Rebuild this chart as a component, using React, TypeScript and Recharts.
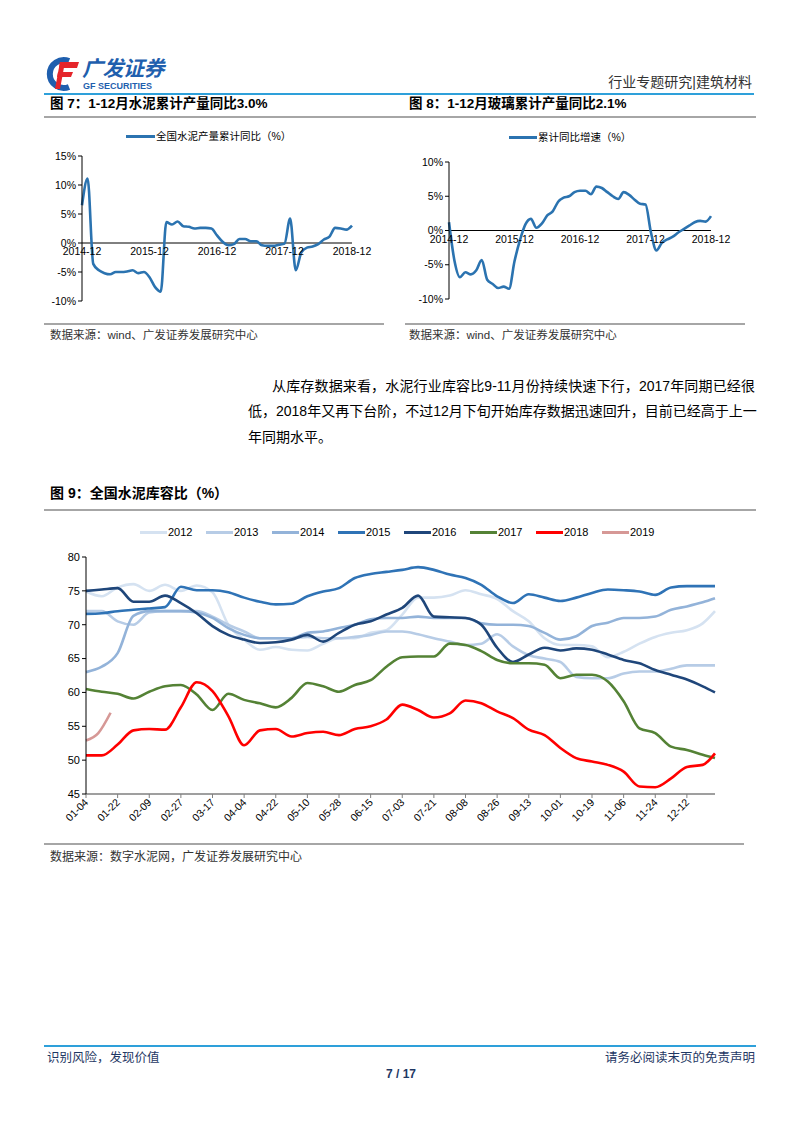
import React from "react";
import { Line, LineChart, ReferenceDot, ReferenceLine, XAxis, YAxis } from "recharts";

// fonts: Arial-metric latin first, CJK falls back to Noto Sans CJK
const CN = '"Liberation Sans", "Noto Sans CJK SC", sans-serif';
const NUM = '"Liberation Sans", Arial, sans-serif';

// ---- 图7 / 图8: monthly, 2014-12 .. 2018-12 ----
const YEAR_LABELS = ["2014-12", "2015-12", "2016-12", "2017-12", "2018-12"];
const CEMENT_YOY = [
  6.5, 11.1, -3.6, -4.7, -5.2, -5.4, -5.0, -5.0, -4.9, -4.7,
  -5.2, -5.0, -5.9, -7.6, -8.4, 3.6, 3.2, 3.7, 2.9, 2.8,
  2.5, 2.6, 2.6, 2.5, 1.3, 0.2, -0.4, -0.2, 0.7, 0.7,
  0.3, 0.3, -0.4, -0.5, -0.5, -0.3, -0.1, 4.2, -4.7, -1.6,
  -0.8, -0.6, -0.2, 0.6, 1.1, 2.6, 2.5, 2.3, 3.0,
];
const GLASS_YOY = [
  1.2, -4.4, -6.8, -6.1, -6.4, -5.8, -4.3, -7.2, -7.8, -8.4,
  -8.2, -8.5, -4.5, -1.4, 0.9, 1.7, 0.4, 1.0, 2.2, 2.8,
  4.2, 4.8, 5.0, 5.6, 5.8, 5.8, 5.3, 6.4, 6.2, 5.6,
  5.0, 4.6, 5.6, 5.2, 4.5, 3.9, 3.8, -0.3, -2.9, -1.8,
  -1.3, -0.9, -0.3, 0.2, 0.7, 1.2, 1.4, 1.3, 2.1,
];
const CEMENT_TICKS = [-10, -5, 0, 5, 10, 15];
const GLASS_TICKS = [-10, -5, 0, 5, 10];

// ---- 图9: 库容比 by day of year ----
const DAYS = [
  4, 13, 22, 31, 40, 49, 58, 67, 76, 85, 94, 103, 112, 121, 130, 139, 148, 157, 166, 175,
  184, 193, 202, 211, 220, 229, 238, 247, 256, 265, 274, 283, 292, 301, 310, 319, 328, 337, 346, 355, 362,
];
const S2012 = [
  74.9, 74.2, 75.5, 76.0, 75.0, 75.9, 75.0, 75.8, 74.8, 70.0,
  67.8, 66.3, 66.7, 66.3, 66.2, 67.2, 68.0, 68.0, 68.8, 69.2,
  71.5, 74.0, 74.0, 74.3, 75.1, 74.5, 73.8, 72.0, 70.5, 68.0,
  67.0, 67.0, 66.8, 65.2, 66.0, 67.2, 68.2, 68.8, 69.2, 70.2, 72.0,
];
const S2013 = [
  72.0, 72.0, 70.5, 70.0, 71.8, 72.0, 72.0, 72.0, 71.2, 70.0,
  69.0, 68.0, 68.0, 68.0, 68.2, 68.0, 68.0, 68.2, 68.5, 69.0,
  69.0, 68.6, 68.0, 67.5, 67.0, 67.2, 68.6, 66.8, 65.5, 65.0,
  64.5, 62.3, 62.1, 62.1, 62.8, 63.1, 63.1, 63.5, 64.0, 64.0, 64.0,
];
const S2014 = [
  63.0, 63.8, 65.8, 71.3, 72.0, 72.0, 72.0, 71.8, 71.0, 69.5,
  68.5, 68.0, 68.0, 68.0, 68.8, 69.0, 69.5, 70.0, 70.8, 71.0,
  71.0, 71.2, 71.0, 71.0, 71.0, 70.2, 70.0, 70.0, 69.8, 68.8,
  67.8, 68.3, 69.8, 70.3, 71.0, 71.0, 71.2, 72.2, 72.7, 73.3, 73.9,
];
const S2015 = [
  71.6, 71.7, 72.0, 72.2, 72.4, 72.6, 75.6, 75.1, 75.1, 74.8,
  74.0, 73.4, 73.0, 73.1, 74.2, 74.9, 75.4, 76.9, 77.5, 77.8,
  78.1, 78.5, 78.1, 77.4, 76.9, 75.9, 74.2, 73.2, 74.5, 74.0,
  73.5, 74.0, 74.7, 75.2, 75.1, 74.9, 74.4, 75.5, 75.7, 75.7, 75.7,
];
const S2016 = [
  75.0, 75.2, 75.4, 73.4, 73.4, 74.3, 73.2, 71.7, 69.8, 68.5,
  67.8, 67.3, 67.4, 67.8, 68.5, 67.5, 68.8, 70.0, 70.5, 71.5,
  72.5, 74.3, 71.2, 71.1, 71.0, 70.0, 66.6, 64.5, 65.6, 66.6,
  66.2, 66.5, 66.3, 65.6, 64.8, 64.3, 63.3, 62.6, 61.9, 60.9, 60.0,
];
const S2017 = [
  60.5, 60.1, 59.8, 59.1, 60.1, 60.9, 61.1, 59.7, 57.4, 59.8,
  58.9, 58.4, 57.8, 59.2, 61.4, 60.9, 60.1, 61.1, 61.8, 63.8,
  65.2, 65.3, 65.3, 67.2, 67.0, 66.1, 64.8, 64.3, 64.3, 64.1,
  62.1, 62.6, 62.6, 61.6, 58.7, 54.7, 54.0, 52.0, 51.5, 50.8, 50.3,
];
const S2018 = [
  50.7, 50.7, 52.3, 54.4, 54.6, 54.5, 57.8, 61.5, 60.2, 56.5,
  52.2, 54.4, 54.6, 53.5, 54.0, 54.2, 53.7, 54.6, 55.0, 56.0,
  58.2, 57.4, 56.3, 56.9, 58.8, 58.4, 57.2, 56.2, 54.5, 53.7,
  51.8, 50.3, 49.8, 49.3, 48.3, 46.1, 46.0, 47.3, 49.0, 49.3, 51.0,
];
const DAYS_2019 = [4, 11, 18];
const S2019 = [52.9, 54.0, 57.0];

const TICK_LABELS = [
  "01-04", "01-22", "02-09", "02-27", "03-17", "04-04", "04-22", "05-10", "05-28", "06-15",
  "07-03", "07-21", "08-08", "08-26", "09-13", "10-01", "10-19", "11-06", "11-24", "12-12",
];
const Y_TICKS = [45, 50, 55, 60, 65, 70, 75, 80];

const SERIES = [
  { key: "y2012", name: "2012", values: S2012, color: "#d5e2f1" },
  { key: "y2013", name: "2013", values: S2013, color: "#b7cce6" },
  { key: "y2014", name: "2014", values: S2014, color: "#93b3d9" },
  { key: "y2015", name: "2015", values: S2015, color: "#2f73b6" },
  { key: "y2016", name: "2016", values: S2016, color: "#1f467a" },
  { key: "y2017", name: "2017", values: S2017, color: "#548235" },
  { key: "y2018", name: "2018", values: S2018, color: "#ff0000" },
];
const COLOR_2019 = "#d69896";

const MONTH_START = [0, 31, 59, 90, 120, 151, 181, 212, 243, 273, 304, 334];
const dayOfYear = (l: string) => {
  const [m, d] = l.split("-").map(Number);
  return MONTH_START[m - 1] + d;
};
const TICK_DAYS = TICK_LABELS.map(dayOfYear);
const LABEL_BY_DAY: Record<number, string> = {};
TICK_LABELS.forEach((l) => (LABEL_BY_DAY[dayOfYear(l)] = l));

const rows9 = DAYS.map((d, i) => {
  const r: Record<string, number> = { day: d };
  SERIES.forEach((s) => (r[s.key] = s.values[i]));
  return r;
});
const rows2019 = DAYS_2019.map((d, i) => ({ day: d, y2019: S2019[i] }));

const abs = (left: number, top: number, extra: React.CSSProperties = {}): React.CSSProperties => ({
  position: "absolute",
  left,
  top,
  whiteSpace: "nowrap",
  lineHeight: 1,
  ...extra,
});

function Rule({ left, top, width, color = "#a6a6a6", h = 1.5 }: { left: number; top: number; width: number; color?: string; h?: number }) {
  return <div style={{ position: "absolute", left, top, width, height: h, background: color }} />;
}

function Logo() {
  return (
    <>
      <svg style={{ position: "absolute", left: 45, top: 56 }} width={36} height={36} viewBox="0 0 36 36">
        <path d="M24 5 A14 14 0 1 0 24 31" stroke="#1f5fae" strokeWidth={6} fill="none" />
        <path d="M15 6 L34 6 L32 12 L14 12 Z" fill="#e5252b" />
        <path d="M13 16 L28 16 L26 21 L12 21 Z" fill="#e5252b" />
        <path d="M15 6 L20 6 L15 33 L10 33 Z" fill="#e5252b" />
      </svg>
      <div style={abs(82, 58, { fontSize: 21, fontWeight: 700, color: "#1f5fae", fontStyle: "italic", letterSpacing: -0.5 })}>
        广发证券
      </div>
      <div style={abs(83, 82, { fontSize: 9, fontWeight: 700, color: "#1f5fae", fontFamily: NUM })}>GF SECURITIES</div>
    </>
  );
}

function SmallChart({
  data,
  ticks,
  domain,
  left,
  top,
  width,
  height,
  margin,
  yWidth,
}: {
  data: number[];
  ticks: number[];
  domain: [number, number];
  left: number;
  top: number;
  width: number;
  height: number;
  margin: { top: number; right: number; bottom: number; left: number };
  yWidth: number;
}) {
  const rows = data.map((v, i) => ({ i, v }));
  return (
    <div style={{ position: "absolute", left, top }}>
      <LineChart width={width} height={height} data={rows} margin={margin}>
        <XAxis type="number" dataKey="i" domain={[0, data.length - 1]} hide />
        <YAxis
          domain={domain}
          ticks={ticks}
          width={yWidth}
          tickSize={4}
          axisLine={{ stroke: "#000" }}
          tickLine={{ stroke: "#000" }}
          tick={{ fontSize: 10.5, fill: "#000", fontFamily: NUM }}
          tickFormatter={(v) => `${v}%`}
        />
        <ReferenceLine y={0} stroke="#000" strokeWidth={1} />
        {YEAR_LABELS.map((l, k) => (
          <ReferenceDot
            key={l}
            x={k * 12}
            y={0}
            r={0}
            fill="none"
            stroke="none"
            label={{ value: l, position: "bottom", offset: 5, fill: "#000", fontSize: 10.5, fontFamily: NUM }}
          />
        ))}
        <Line type="monotone" dataKey="v" stroke="#2b73b0" strokeWidth={2.6} dot={false} isAnimationActive={false} />
      </LineChart>
    </div>
  );
}

function RotTick(props: any) {
  const { x, y, payload } = props;
  return (
    <g transform={`translate(${x + 3},${y + 3})`}>
      <text textAnchor="end" transform="rotate(-45)" fontSize={10.5} fill="#000" fontFamily={NUM}>
        {LABEL_BY_DAY[payload.value]}
      </text>
    </g>
  );
}

function Legend9() {
  const all = [...SERIES.map((s) => ({ name: s.name, color: s.color })), { name: "2019", color: COLOR_2019 }];
  return (
    <div style={{ position: "absolute", left: 140, top: 525, display: "flex" }}>
      {all.map((s) => (
        <div key={s.name} style={{ width: 66, display: "flex", alignItems: "center", height: 14 }}>
          <div style={{ width: 27, height: 3, background: s.color }} />
          <span style={{ fontSize: 11, fontFamily: NUM, color: "#000", marginLeft: 1 }}>{s.name}</span>
        </div>
      ))}
    </div>
  );
}

export default function App() {
  return (
    <div style={{ position: "absolute", left: 0, top: 0, width: 802, height: 1133, background: "#fff", fontFamily: CN, color: "#000" }}>
      {/* header */}
      <Logo />
      <div style={abs(0, 75, { width: 752, textAlign: "right", fontSize: 14, color: "#333" })}>行业专题研究|建筑材料</div>
      <Rule left={44} top={93} width={710} color="#2ea0da" h={2} />

      {/* 图7 / 图8 */}
      <div style={abs(50, 97, { fontSize: 13.5, fontWeight: 700 })}>图 7：1-12月水泥累计产量同比3.0%</div>
      <div style={abs(409, 97, { fontSize: 13.5, fontWeight: 700 })}>图 8：1-12月玻璃累计产量同比2.1%</div>
      <Rule left={44} top={116} width={712} />

      <div style={{ position: "absolute", left: 126, top: 135, width: 29, height: 3, background: "#2b73b0" }} />
      <div style={abs(156, 131, { fontSize: 10.5 })}>全国水泥产量累计同比（%）</div>
      <div style={{ position: "absolute", left: 509, top: 136, width: 28, height: 3, background: "#2b73b0" }} />
      <div style={abs(538, 132, { fontSize: 10.5 })}>累计同比增速（%）</div>

      <SmallChart
        data={CEMENT_YOY}
        ticks={CEMENT_TICKS}
        domain={[-10, 15]}
        left={40}
        top={145}
        width={342}
        height={166}
        margin={{ top: 11, right: 30, bottom: 10, left: 4 }}
        yWidth={38}
      />
      <SmallChart
        data={GLASS_YOY}
        ticks={GLASS_TICKS}
        domain={[-10, 10]}
        left={400}
        top={150}
        width={350}
        height={159}
        margin={{ top: 12, right: 39, bottom: 10, left: 9 }}
        yWidth={40}
      />

      <Rule left={44} top={323} width={340} />
      <Rule left={405} top={323} width={340} />
      <div style={abs(50, 330, { fontSize: 11.5, color: "#333" })}>数据来源：wind、广发证券发展研究中心</div>
      <div style={abs(409, 330, { fontSize: 11.5, color: "#333" })}>数据来源：wind、广发证券发展研究中心</div>

      {/* paragraph */}
      <div style={abs(272, 379, { width: 483, fontSize: 14, textAlign: "justify", textAlignLast: "justify" })}>
        从库存数据来看，水泥行业库容比9-11月份持续快速下行，2017年同期已经很
      </div>
      <div style={abs(248, 404, { width: 507, fontSize: 14, textAlign: "justify", textAlignLast: "justify" })}>
        低，2018年又再下台阶，不过12月下旬开始库存数据迅速回升，目前已经高于上一
      </div>
      <div style={abs(248, 430, { fontSize: 14 })}>年同期水平。</div>

      {/* 图9 */}
      <div style={abs(50, 486, { fontSize: 14, fontWeight: 700 })}>图 9：全国水泥库容比（%）</div>
      <Rule left={44} top={509} width={712} />
      <Legend9 />

      <div style={{ position: "absolute", left: 40, top: 545 }}>
        <LineChart width={720} height={300} data={rows9} margin={{ top: 12, right: 45, bottom: 4, left: 10 }}>
          <XAxis
            type="number"
            dataKey="day"
            domain={[4, 362]}
            ticks={TICK_DAYS}
            interval={0}
            height={47}
            tickSize={4}
            axisLine={{ stroke: "#7f7f7f", strokeWidth: 1.5 }}
            tickLine={{ stroke: "#7f7f7f" }}
            tick={<RotTick />}
          />
          <YAxis
            domain={[45, 80]}
            ticks={Y_TICKS}
            width={36}
            tickSize={4}
            axisLine={{ stroke: "#000" }}
            tickLine={{ stroke: "#000" }}
            tick={{ fontSize: 11, fill: "#000", fontFamily: NUM }}
          />
          {SERIES.map((s) => (
            <Line
              key={s.key}
              type="monotone"
              dataKey={s.key}
              stroke={s.color}
              strokeWidth={2.6}
              dot={false}
              isAnimationActive={false}
            />
          ))}
          <Line
            data={rows2019}
            type="monotone"
            dataKey="y2019"
            stroke={COLOR_2019}
            strokeWidth={2.6}
            dot={false}
            isAnimationActive={false}
          />
        </LineChart>
      </div>

      <Rule left={44} top={843} width={700} />
      <div style={abs(50, 851, { fontSize: 12, color: "#333" })}>数据来源：数字水泥网，广发证券发展研究中心</div>

      {/* footer */}
      <Rule left={44} top={1045} width={712} color="#2ea0da" h={2} />
      <div style={abs(47, 1052, { fontSize: 12.5, color: "#1f3864" })}>识别风险，发现价值</div>
      <div style={abs(0, 1052, { width: 755, textAlign: "right", fontSize: 12.5, color: "#1f3864" })}>请务必阅读末页的免责声明</div>
      <div style={abs(0, 1068, { width: 802, textAlign: "center", fontSize: 12, fontWeight: 700, color: "#1f3864", fontFamily: NUM })}>
        7 / 17
      </div>
    </div>
  );
}
